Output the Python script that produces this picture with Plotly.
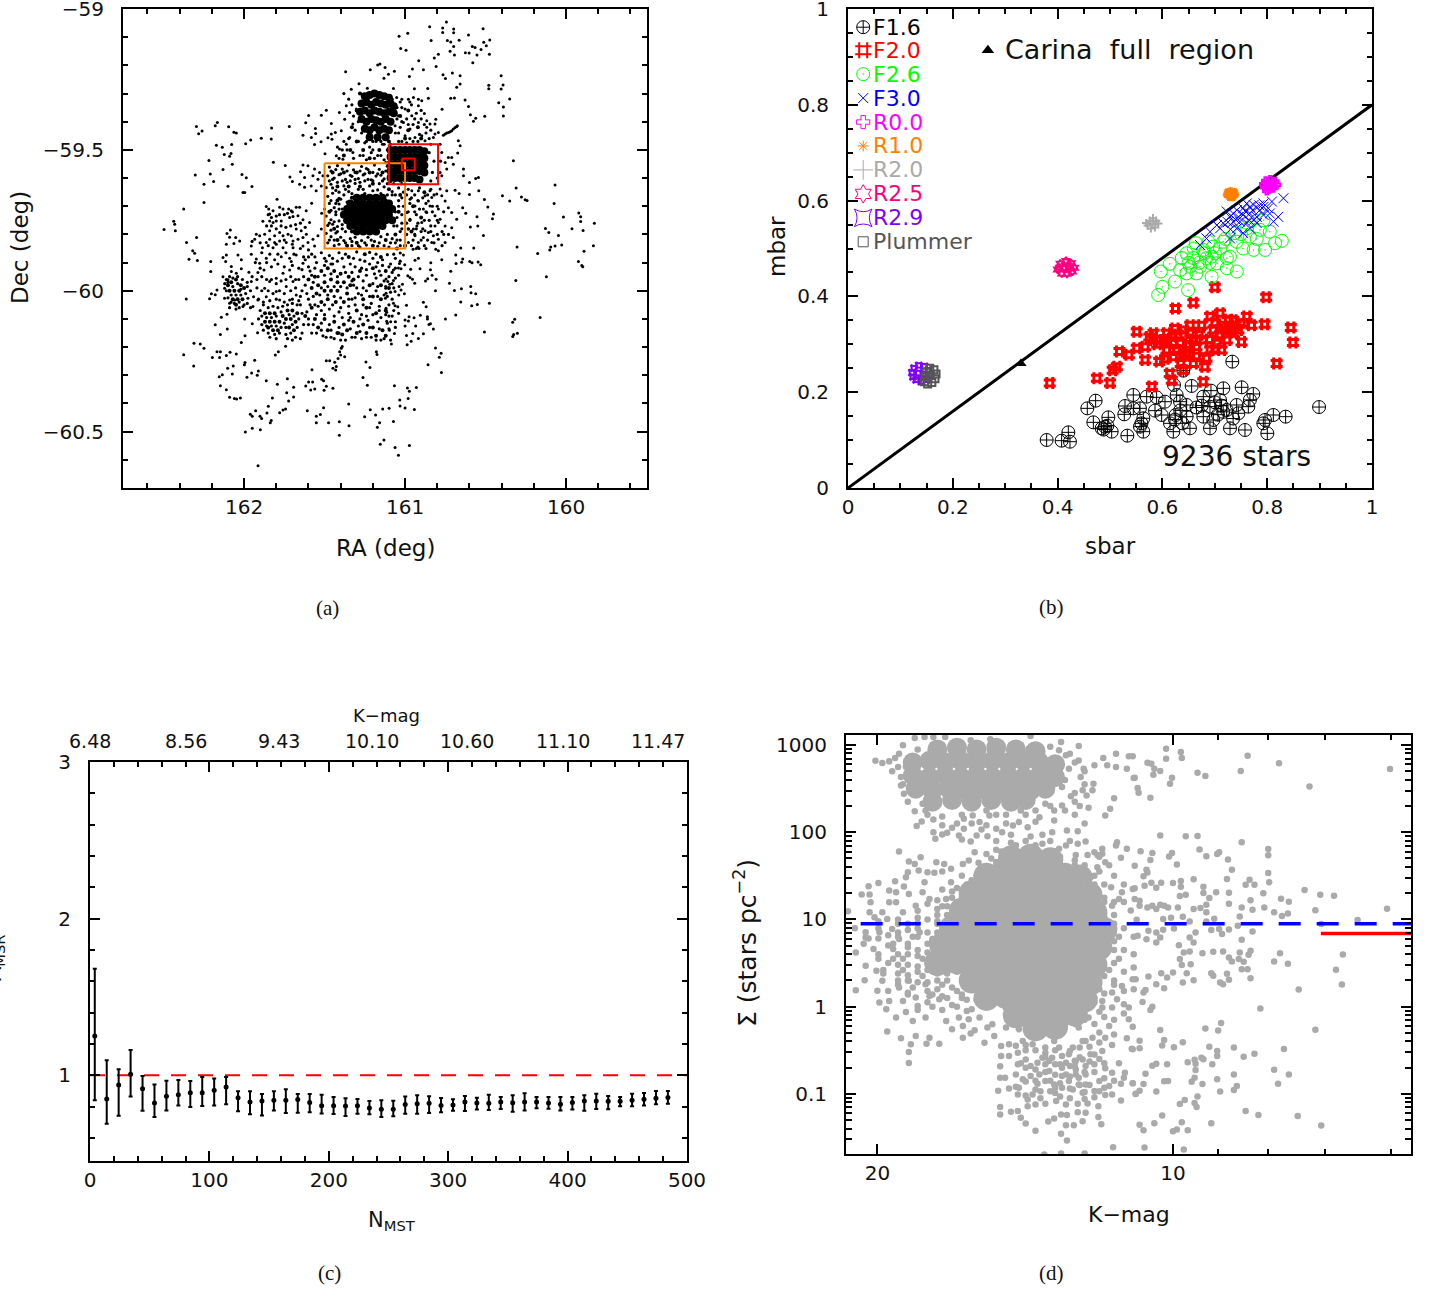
import plotly.graph_objects as go

W, H = 1432, 1293
FONT = "DejaVu Sans"

# ---------- panel (a): RA, Dec of stars ----------
stars_sparse = [
(162.296,-59.417),(162.282,-59.443),(162.261,-59.433),(162.179,-59.414),(162.166,-59.403),(162.096,-59.418),(162.063,-59.437),(162.048,-59.44),
(162.172,-59.484),(162.135,-59.491),(162.077,-59.481),(161.99,-59.478),(161.959,-59.465),(161.893,-59.459),(161.831,-59.461),(161.829,-59.422),
(161.719,-59.417),(161.634,-59.448),(161.617,-59.404),(161.599,-59.378),(161.557,-59.424),(161.582,-59.456),(161.555,-59.442),(161.562,-59.481),
(161.522,-59.471),(161.52,-59.377),(161.489,-59.359),(161.458,-59.406),(161.479,-59.457),(161.458,-59.444),(161.433,-59.438),(161.454,-59.462),
(161.408,-59.367),(161.369,-59.223),(161.216,-59.216),(161.286,-59.265),(161.334,-59.285),(161.234,-59.281),(161.17,-59.199),(161.156,-59.195),(161.131,-59.246),
(162.218,-59.538),(162.303,-59.589),(162.21,-59.586),(162.249,-59.622),(162.189,-59.612),(162.131,-59.57),(162.073,-59.551),(162.123,-59.516),(162.09,-59.523),(162.081,-59.513),
(162.013,-59.587),(161.986,-59.599),(162.1,-59.629),(161.951,-59.63),(162.007,-59.651),(161.996,-59.651),(162.249,-59.687),(162.375,-59.71),(162.437,-59.753),(162.431,-59.764),
(162.497,-59.783),(162.427,-59.787),(162.357,-59.829),(162.295,-59.811),(161.818,-59.544),(161.744,-59.555),(161.715,-59.596),(161.7,-59.612),(161.795,-59.675),(161.497,-59.514),
(161.58,-59.689),(162.085,-59.784),(162.106,-59.797),(162.09,-59.81),(162.052,-59.811),(162.027,-59.823),(162.11,-59.835),(162.063,-59.832),
(161.037,-59.097),(160.983,-59.086),(160.847,-59.063),(160.743,-59.046),(160.766,-59.067),(160.766,-59.083),(160.698,-59.071),(160.698,-59.084),(160.606,-59.092),(160.515,-59.07),
(160.838,-59.112),(160.737,-59.112),(160.716,-59.117),(160.664,-59.111),(160.474,-59.11),(160.511,-59.118),(160.495,-59.13),(160.582,-59.133),(160.565,-59.137),(160.528,-59.144),
(160.698,-59.133),(160.72,-59.15),(161.027,-59.14),(160.994,-59.146),(160.625,-59.155),(160.602,-59.156),(160.553,-59.163),(160.476,-59.161),(160.693,-59.163),(160.793,-59.161),
(160.818,-59.174),(160.915,-59.184),(160.579,-59.191),(160.807,-59.204),(160.954,-59.213),(160.886,-59.216),(161.066,-59.221),(161.124,-59.208),(161.103,-59.232),(160.973,-59.24),
(160.764,-59.233),(160.706,-59.227),(160.658,-59.237),(160.749,-59.247),(160.403,-59.237),(160.658,-59.266),(160.679,-59.278),(160.48,-59.271),(160.48,-59.283),(160.391,-59.27),
(160.403,-59.284),(161.072,-59.282),(160.942,-59.283),(160.859,-59.282),(160.716,-59.317),(160.693,-59.316),(160.627,-59.323),(160.35,-59.319),(160.418,-59.333),(160.606,-59.346),
(160.389,-59.348),(160.77,-59.356),(160.594,-59.375),(160.505,-59.381),(160.389,-59.38),(160.561,-59.388),(160.575,-59.398),(160.327,-59.539),(160.637,-59.568),(160.637,-59.592),
(160.068,-59.625),(160.31,-59.635),(160.544,-59.598),(160.561,-59.602),(160.6,-59.616),(160.395,-59.663),(160.35,-59.681),(160.277,-59.667),(160.254,-59.677),(160.242,-59.68),
(160.074,-59.69),(159.921,-59.724),(159.909,-59.737),(159.909,-59.754),(160.016,-59.738),(159.824,-59.76),(159.963,-59.78),(160.128,-59.779),(160.107,-59.793),(159.894,-59.786),
(160.047,-59.804),(159.83,-59.84),(160.027,-59.838),(160.095,-59.845),(160.068,-59.841),(160.304,-59.845),(160.573,-59.848),(160.654,-59.848),(160.507,-59.676),(160.486,-59.703),
(160.451,-59.728),(160.457,-59.744),(160.553,-59.737),(160.548,-59.77),(160.594,-59.774),(160.513,-59.804),(160.542,-59.645),(160.6,-59.658),(160.664,-59.655),(160.689,-59.643),
(160.642,-59.705),(160.623,-59.725),(160.71,-59.722),(160.679,-59.746),
(159.888,-59.86),(159.923,-59.896),(159.902,-59.91),(159.896,-59.915),(160.176,-59.868),(160.101,-59.855),(160.122,-59.95),(160.312,-59.964),(160.161,-60.095),(160.319,-60.101),
(160.331,-60.112),(160.302,-60.151),(160.325,-60.155),(160.331,-60.162),(160.507,-60.146),(160.476,-60.044),(160.551,-60.049),(160.586,-60.053),(160.654,-60.04),(160.685,-60.086),
(160.749,-60.1),(160.824,-60.136),(160.842,-60.117),(160.851,-60.12),(160.861,-60.092),(160.861,-60.1),(160.905,-60.087),(160.869,-60.057),(160.886,-60.041),(160.934,-60.125),
(160.944,-60.096),(160.975,-60.092),(161.0,-60.104),(161.0,-60.125),(160.979,-60.107),(160.991,-60.051),(160.886,-60.153),(160.952,-60.152),(160.991,-60.159),(160.917,-60.169),
(160.962,-60.179),(160.987,-60.192),(161.085,-60.189),(161.066,-60.152),(161.097,-60.14),(161.12,-60.159),(161.114,-60.108),(161.089,-60.11),(160.811,-60.203),(160.776,-60.222),
(160.787,-60.236),(160.857,-60.263),(160.774,-60.29),(161.066,-60.337),(160.985,-60.345),(160.93,-60.343),(160.973,-60.357),(160.981,-60.382),(161.033,-60.388),(161.031,-60.409),
(161.0,-60.416),(160.942,-60.421),(161.099,-60.417),(161.072,-60.464),(161.062,-60.556),(160.973,-60.549),(161.041,-60.584),(160.811,-60.0),(160.693,-59.999),(160.65,-59.993),
(160.592,-59.985),(160.59,-60.007),(160.561,-60.011),(160.724,-59.973),(160.716,-59.931),(160.807,-59.959),(160.832,-59.945),(160.859,-59.957),(160.873,-59.965),(160.772,-59.89),
(160.84,-59.901),(160.842,-59.925),(160.907,-59.922),(160.938,-59.892),(160.917,-59.885),(160.965,-59.924),(161.002,-59.908),(161.035,-59.903),(161.041,-59.919),(161.025,-59.922),
(161.072,-59.926),(161.01,-59.873),(160.95,-59.853),(160.913,-59.85),(160.809,-59.853),(160.793,-59.858),(160.685,-59.873),(160.683,-59.903),(160.648,-59.899),(160.642,-59.887),
(160.598,-59.896),(160.584,-59.901),(160.546,-59.898),(160.53,-59.908),(160.983,-59.947),(160.969,-59.953),(160.954,-59.959),(160.94,-59.973),(161.016,-59.977),(161.037,-59.985),
(161.025,-59.997),(161.062,-60.003),(161.039,-60.015),(161.004,-60.011),(161.072,-59.964),(161.118,-59.958),(161.107,-59.967),(161.095,-59.977),(161.072,-60.044),(161.062,-60.053),
(161.045,-60.057),(161.114,-60.076),(161.118,-60.062),(161.122,-60.027),(161.118,-60.009),(161.12,-59.991),
(162.319,-59.858),(162.307,-59.867),(162.342,-59.888),(162.29,-59.893),(162.207,-59.896),(162.207,-59.932),(162.359,-60.029),(162.214,-60.028),(162.203,-60.011),(162.179,-60.014),
(162.168,-59.997),(162.179,-60.121),(162.141,-60.094),(162.106,-60.083),(162.104,-60.136),(162.147,-60.155),(162.311,-60.186),(162.272,-60.189),(162.249,-60.204),(162.375,-60.227),
(162.168,-60.216),(162.147,-60.216),(162.197,-60.237),(162.152,-60.237),(162.11,-60.23),(162.087,-60.218),(162.048,-60.224),(162.313,-60.267),(162.102,-60.275),(162.067,-60.267),
(161.994,-60.255),(161.998,-60.263),(161.934,-60.247),(162.135,-60.298),(162.154,-60.305),(162.073,-60.295),(161.982,-60.307),(161.953,-60.292),(161.911,-60.285),(161.918,-60.3),
(161.862,-60.319),(162.147,-60.337),(162.11,-60.351),(162.09,-60.378),(162.06,-60.382),(162.046,-60.384),(162.023,-60.381),(161.824,-60.381),(161.793,-60.332),(161.731,-60.312),
(161.692,-60.342),(161.735,-60.362),(161.692,-60.377),(161.723,-60.391),(161.849,-60.41),(161.858,-60.434),(161.928,-60.426),(161.961,-60.438),(161.949,-60.445),(161.901,-60.445),
(161.891,-60.453),(161.831,-60.46),(161.837,-60.468),(161.779,-60.433),(161.758,-60.423),(161.742,-60.42),(161.992,-60.501),(161.949,-60.488),(161.899,-60.493),(161.913,-60.621),
(161.607,-60.426),(161.551,-60.445),(161.526,-60.439),(161.506,-60.415),(161.551,-60.468),(161.475,-60.468),(161.408,-60.465),(161.348,-60.479),(161.408,-60.513),(161.35,-60.402),
(161.251,-60.447),(161.216,-60.422),(161.183,-60.441),(161.158,-60.468),(161.172,-60.484),(161.154,-60.545),(161.131,-60.53),(161.139,-60.42),(161.617,-60.338),(161.599,-60.324),
(161.574,-60.324),(161.586,-60.352),(161.561,-60.349),(161.578,-60.28),(161.518,-60.314),(161.506,-60.319),(161.503,-60.353),(161.489,-60.339),(161.448,-60.346),(161.261,-60.308),
(161.234,-60.335),(161.243,-60.253),(161.218,-60.272),(161.489,-60.248),(161.468,-60.248),(161.437,-60.254),(161.448,-60.275),(161.431,-60.281),(161.427,-60.269),(161.416,-60.24),
(161.4,-60.228),(161.406,-60.216),(161.396,-60.204),(161.375,-60.234),(161.39,-60.198),(161.806,-60.228),(161.787,-60.216),(161.742,-60.197),(162.017,-60.184),(161.994,-60.16),
(161.916,-60.149),(161.996,-60.1),(161.949,-60.117),(161.178,-60.216),(161.174,-60.226),
(160.762,-59.448),(160.741,-59.44),(160.72,-59.436),(160.70,-59.426),(160.679,-59.417),(160.751,-59.444),(160.73,-59.438),(160.71,-59.432),(160.689,-59.421),(160.675,-59.414),
(160.669,-59.468),(160.658,-59.485),(160.673,-59.511),(160.7,-59.551),(160.751,-59.545),(160.741,-59.568),(160.782,-59.58),(160.772,-59.592),(160.71,-59.527),(160.731,-59.527),
(160.782,-59.48),(160.772,-59.509),(160.793,-59.438),(160.814,-59.444),(160.824,-59.456),(160.814,-59.408),(160.809,-59.391),(160.865,-59.397),(160.845,-59.408),(160.88,-59.371),
(160.917,-59.343),(160.917,-59.32),(160.948,-59.314),(160.855,-59.317),(160.896,-59.326),(160.979,-59.32),(161.02,-59.32),(161.052,-59.314),(161.083,-59.332),(161.0,-59.355),
(160.958,-59.379),(160.917,-59.403),(160.865,-59.42),(160.896,-59.45),(160.876,-59.468),(160.938,-59.456),(161.0,-59.45),(161.062,-59.414),(161.041,-59.379),(161.01,-59.403),
(160.969,-59.426),(161.093,-59.355),
(160.969,-59.675),(160.938,-59.699),(160.917,-59.681),(160.876,-59.663),(160.855,-59.681),(160.834,-59.669),(160.803,-59.657),(160.772,-59.663),(160.741,-59.645),(160.886,-59.71),
(160.865,-59.722),(160.845,-59.699),(160.814,-59.734),(160.782,-59.746),(160.751,-59.77),(160.71,-59.776),(160.7,-59.811),(160.793,-59.758),(160.814,-59.77),(160.855,-59.793),
(160.886,-59.811),(160.917,-59.829),(160.948,-59.781),(160.969,-59.746),(160.927,-59.77),(160.896,-59.758),(160.834,-59.829),(160.751,-59.829),(160.793,-59.817),(160.979,-59.829),
(160.751,-59.681),(160.731,-59.705),(160.793,-59.71),(160.917,-59.645),(160.845,-59.645),(160.958,-59.645),(160.782,-59.639),(160.989,-59.722),(160.979,-59.781),(160.938,-59.805),
(160.876,-59.787),(160.824,-59.805),
(161.862,-59.701),(161.847,-59.71),(161.82,-59.716),(161.841,-59.728),(161.779,-59.704),(161.758,-59.71),(161.723,-59.71),(161.707,-59.716),(161.676,-59.704),(161.655,-59.704),
(161.614,-59.716),(161.883,-59.753),(161.841,-59.752),(161.82,-59.758),(161.8,-59.752),(161.769,-59.752),(161.717,-59.74),(161.696,-59.736),(161.665,-59.734),(161.634,-59.748),
(161.593,-59.758),(161.924,-59.799),(161.903,-59.805),(161.872,-59.799),(161.841,-59.787),(161.81,-59.805),(161.779,-59.793),(161.758,-59.805),(161.727,-59.799),(161.707,-59.805),
(161.676,-59.781),(161.645,-59.787),(161.613,-59.799),(161.634,-59.811),(161.665,-59.817),(161.696,-59.823),(161.738,-59.829),(161.779,-59.823),(161.81,-59.829),(161.841,-59.817),
(161.862,-59.829),(161.934,-59.817),(161.955,-59.841),(161.886,-59.847),(161.82,-59.847),(161.758,-59.847),(161.696,-59.847),(161.634,-59.841),(161.603,-59.829),(161.572,-59.817),
(161.541,-59.805),(161.562,-59.841),(161.518,-59.725),(161.5,-59.71),(161.52,-59.781),
(161.634,-59.554),(161.603,-59.556),(161.562,-59.568),(161.531,-59.58),(161.649,-59.578),(161.624,-59.598),(161.572,-59.592),(161.541,-59.604),(161.655,-59.622),(161.624,-59.633),
(161.583,-59.628),(161.552,-59.645),(161.51,-59.592),(161.52,-59.628),(161.365,-59.343),(161.344,-59.367),(161.375,-59.391),(161.396,-59.432),(161.344,-59.456),(161.365,-59.48),
(161.407,-59.497),(161.427,-59.521),(161.386,-59.533),(161.324,-59.509),(161.303,-59.355),(161.324,-59.408),
(162.131,-59.882),(162.11,-59.873),(162.114,-59.896),(162.079,-59.914),(162.038,-59.873),(162.017,-59.89),(161.955,-59.87),(161.924,-59.887),(161.903,-59.902),(162.131,-59.95),
(162.1,-59.961),(162.079,-59.932),(162.048,-59.938),(162.017,-59.922),(161.97,-59.934),(161.914,-59.935),(161.876,-59.926),(161.955,-59.967),(162.121,-59.991),(162.121,-60.027),
(162.09,-60.044),(162.059,-60.033),(162.007,-60.056),(161.976,-60.027),(161.941,-60.021),(161.914,-60.033),(161.945,-60.056),(161.862,-60.021),(161.841,-59.967),(161.8,-59.956),
(161.758,-59.938),(161.717,-59.926),(161.872,-59.991),(161.8,-60.003),(161.738,-59.985),(161.696,-59.967),(161.676,-60.015),(161.779,-60.033),(161.717,-60.033),(161.862,-59.885),
(161.81,-59.89),(161.769,-59.879),(161.717,-59.885),(161.676,-59.873),(161.634,-59.902),(161.707,-59.896),
]
stars_field = [
(161.47,-59.561),(161.42,-59.556),(161.39,-59.568),(161.35,-59.553),(161.32,-59.571),(161.27,-59.559),(161.24,-59.566),(161.19,-59.554),(161.16,-59.569),(161.11,-59.558),(161.08,-59.573),(161.04,-59.561),
(161.48,-59.592),(161.44,-59.6),(161.41,-59.588),(161.37,-59.605),(161.33,-59.594),(161.29,-59.602),(161.26,-59.589),(161.21,-59.606),(161.18,-59.593),(161.13,-59.603),(161.09,-59.612),(161.05,-59.597),(161.02,-59.62),
(161.49,-59.634),(161.46,-59.622),(161.43,-59.644),(161.38,-59.628),(161.35,-59.648),(161.31,-59.619),(161.26,-59.64),(161.22,-59.628),(161.17,-59.642),(161.13,-59.631),(161.08,-59.648),(161.04,-59.635),(161.01,-59.65),
(161.48,-59.665),(161.45,-59.654),(161.41,-59.672),(161.38,-59.66),(161.36,-59.685),(161.47,-59.69),(161.44,-59.705),(161.41,-59.692),(161.39,-59.71),(161.49,-59.735),(161.46,-59.748),(161.43,-59.73),(161.41,-59.752),
(161.48,-59.768),(161.45,-59.764),(161.42,-59.772),(161.39,-59.765),(161.37,-59.79),(161.49,-59.796),(161.46,-59.808),(161.43,-59.795),(161.4,-59.81),(161.38,-59.822),(161.48,-59.83),(161.44,-59.84),(161.34,-59.815),
(161.31,-59.81),(161.27,-59.822),(161.23,-59.81),(161.19,-59.825),(161.15,-59.808),(161.11,-59.8),(161.08,-59.815),(161.03,-59.79),(161.02,-59.76),(161.05,-59.74),(161.07,-59.77),(161.01,-59.7),(161.04,-59.68),(161.08,-59.66),
(161.33,-59.84),(161.28,-59.845),(161.24,-59.838),(161.17,-59.842),(161.1,-59.845),(161.06,-59.83),(161.03,-59.82),
(160.98,-59.64),(160.94,-59.66),(160.91,-59.635),(160.87,-59.69),(160.83,-59.72),(160.97,-59.69),(160.93,-59.73),(160.85,-59.75),(160.99,-59.76),(160.94,-59.8),(160.9,-59.79),(160.86,-59.82),(160.99,-59.8),(160.96,-59.84),
(160.92,-59.845),(160.88,-59.84),(160.8,-59.7),(160.76,-59.72),(160.77,-59.79),(160.84,-59.64),
(161.38,-59.3),(161.35,-59.32),(161.33,-59.34),(161.32,-59.38),(161.29,-59.4),(161.31,-59.43),(161.27,-59.44),(161.29,-59.47),(161.25,-59.475),(161.22,-59.49),(161.26,-59.52),(161.21,-59.51),(161.18,-59.47),(161.19,-59.53),
(161.13,-59.48),(161.15,-59.52),(161.12,-59.545),(161.06,-59.44),(161.03,-59.42),(161.05,-59.35),(161.07,-59.37),(161.02,-59.35),(160.99,-59.39),(160.96,-59.34),(160.93,-59.37),(160.95,-59.41),(160.9,-59.39),(160.88,-59.41),
(160.97,-59.46),(160.92,-59.47),(160.84,-59.43),(160.84,-59.48),(160.85,-59.51),(160.82,-59.54),(160.83,-59.58),(160.8,-59.6),(160.84,-59.61),(160.78,-59.54),(161.04,-59.47),(161.35,-59.46),(161.38,-59.47),(161.41,-59.53),
(161.58,-59.87),(161.52,-59.865),(161.47,-59.875),(161.41,-59.865),(161.37,-59.87),(161.3,-59.862),(161.22,-59.864),(161.18,-59.87),(161.11,-59.872),(161.07,-59.87),(161.03,-59.866),(161.62,-59.89),(161.55,-59.9),(161.49,-59.895),
(161.42,-59.895),(161.34,-59.905),(161.25,-59.895),(161.17,-59.9),(161.09,-59.905),(161.03,-59.895),(161.64,-59.925),(161.59,-59.93),(161.45,-59.905),(161.33,-59.935),(161.24,-59.925),(161.16,-59.93),(161.08,-59.935),(161.04,-59.945),
(161.66,-59.96),(161.3,-59.99),(161.26,-59.965),(161.18,-59.955),(161.13,-59.965),(161.07,-59.99),(161.64,-60.0),(161.6,-60.03),(161.56,-60.05),(161.33,-60.03),(161.29,-60.01),(161.24,-60.0),(161.18,-60.0),(161.11,-60.02),
(161.08,-60.03),(161.65,-60.05),(161.61,-60.075),(161.52,-60.07),(161.47,-60.065),(161.41,-60.075),(161.35,-60.08),(161.27,-60.085),(161.21,-60.045),(161.16,-60.055),(161.1,-60.05),(161.08,-60.09),(161.06,-60.11),(161.04,-60.08),
(161.6,-60.12),(161.52,-60.115),(161.47,-60.12),(161.41,-60.13),(161.35,-60.105),(161.29,-60.125),(161.23,-60.105),(161.17,-60.11),(161.11,-60.115),(161.58,-60.15),(161.51,-60.16),(161.46,-60.165),(161.33,-60.165),(161.27,-60.17),
(161.21,-60.165),(161.15,-60.175),(161.09,-60.175),(161.44,-60.17),(161.4,-60.175),(161.37,-60.175),
(161.9,-60.07),(161.88,-60.05),(161.85,-60.06),(161.82,-60.055),(161.79,-60.06),(161.76,-60.055),(161.73,-60.05),(161.7,-60.045),(161.67,-60.05),(161.64,-60.08),(161.91,-60.1),(161.89,-60.09),(161.86,-60.095),(161.83,-60.095),
(161.8,-60.09),(161.77,-60.075),(161.75,-60.115),(161.72,-60.085),(161.69,-60.09),(161.66,-60.1),(161.63,-60.12),(161.89,-60.12),(161.86,-60.125),(161.83,-60.125),(161.8,-60.125),(161.77,-60.13),(161.74,-60.13),(161.7,-60.12),
(161.67,-60.13),(161.64,-60.15),(161.88,-60.14),(161.85,-60.15),(161.81,-60.155),(161.78,-60.15),(161.74,-60.155),(161.71,-60.15),(161.68,-60.165),(161.65,-60.17),(161.84,-60.165),(161.8,-60.17),(161.73,-60.17),(161.7,-60.175),
(162.11,-59.96),(162.09,-59.95),(162.07,-59.955),(162.04,-59.95),(162.01,-59.96),(161.98,-59.97),(162.12,-59.975),(162.1,-59.97),(162.07,-59.985),(162.04,-59.975),(162.02,-59.995),(161.98,-59.985),(162.11,-60.0),(162.08,-60.015),
(162.05,-60.015),(162.02,-60.015),(161.99,-60.01),(161.96,-60.0),(162.1,-60.025),(162.08,-60.04),(162.06,-60.045),(162.03,-60.04),(162.0,-60.05),(161.98,-60.045),(162.09,-60.06),(162.05,-60.065),(162.03,-60.06),(161.96,-60.06),
(161.46,-59.575),(161.43,-59.57),(161.4,-59.585),(161.36,-59.575),(161.34,-59.59),(161.31,-59.58),(161.28,-59.575),(161.25,-59.585),(161.23,-59.57),(161.2,-59.58),(161.17,-59.585),(161.15,-59.59),(161.12,-59.575),(161.1,-59.59),(161.07,-59.585),(161.03,-59.58),
(161.47,-59.61),(161.45,-59.605),(161.42,-59.615),(161.39,-59.61),(161.36,-59.615),(161.34,-59.61),(161.31,-59.605),(161.28,-59.615),(161.25,-59.61),(161.23,-59.605),(161.2,-59.61),(161.16,-59.62),(161.14,-59.61),(161.11,-59.62),(161.07,-59.62),(161.03,-59.61),
(161.45,-59.635),(161.41,-59.65),(161.37,-59.64),(161.33,-59.655),(161.29,-59.64),(161.25,-59.655),(161.2,-59.645),(161.15,-59.655),(161.11,-59.66),(161.06,-59.66),(161.02,-59.67),
(161.46,-59.68),(161.43,-59.69),(161.4,-59.675),(161.46,-59.715),(161.43,-59.72),(161.41,-59.71),(161.47,-59.76),(161.44,-59.755),(161.42,-59.79),(161.39,-59.78),(161.46,-59.785),(161.47,-59.82),(161.44,-59.82),(161.41,-59.835),(161.37,-59.83),(161.33,-59.825),(161.29,-59.84),(161.25,-59.83),(161.21,-59.82),(161.16,-59.83),(161.13,-59.84),(161.09,-59.83),(161.05,-59.82),(161.03,-59.84),(161.04,-59.7),(161.06,-59.72),(161.02,-59.73),(161.05,-59.77),(161.02,-59.78),
(161.6,-59.88),(161.56,-59.88),(161.5,-59.885),(161.45,-59.885),(161.39,-59.885),(161.32,-59.885),(161.28,-59.89),(161.2,-59.885),(161.14,-59.89),(161.06,-59.885),(161.6,-59.915),(161.56,-59.92),(161.5,-59.91),(161.46,-59.905),(161.38,-59.915),(161.31,-59.915),(161.27,-59.92),(161.22,-59.905),(161.18,-59.915),(161.14,-59.91),(161.1,-59.915),(161.06,-59.92),(161.63,-59.95),(161.58,-59.945),(161.54,-59.95),(161.5,-59.945),(161.46,-59.94),(161.42,-59.95),(161.37,-59.935),(161.33,-59.965),(161.29,-59.95),(161.24,-59.945),(161.19,-59.94),(161.15,-59.945),(161.1,-59.95),(161.06,-59.955),
(161.62,-59.98),(161.57,-59.97),(161.52,-59.99),(161.48,-59.985),(161.44,-59.985),(161.4,-59.985),(161.36,-59.99),(161.32,-59.98),(161.26,-59.99),(161.2,-59.975),(161.17,-59.985),(161.12,-59.985),(161.08,-59.975),
(161.61,-60.01),(161.57,-60.02),(161.53,-60.015),(161.48,-60.015),(161.44,-60.02),(161.4,-60.025),(161.35,-60.03),(161.31,-60.025),(161.27,-60.015),(161.22,-60.02),(161.17,-60.02),(161.13,-60.015),(161.09,-60.005),
(161.59,-60.05),(161.54,-60.055),(161.5,-60.05),(161.45,-60.05),(161.4,-60.06),(161.35,-60.055),(161.31,-60.05),(161.26,-60.05),(161.22,-60.06),(161.16,-60.07),(161.12,-60.085),(161.07,-60.07),
(161.6,-60.1),(161.55,-60.085),(161.5,-60.085),(161.44,-60.09),(161.39,-60.095),(161.34,-60.095),(161.28,-60.1),(161.24,-60.09),(161.2,-60.085),(161.15,-60.095),(161.1,-60.09),
(161.57,-60.12),(161.52,-60.14),(161.46,-60.14),(161.41,-60.15),(161.34,-60.135),(161.28,-60.145),(161.22,-60.13),(161.16,-60.135),(161.1,-60.135),(161.06,-60.13),(161.55,-60.15),(161.49,-60.165),(161.31,-60.165),(161.24,-60.165),(161.18,-60.175),(161.13,-60.17),
(161.95,-59.95),(161.92,-59.96),(161.89,-59.95),(161.86,-59.96),(161.83,-59.96),(161.8,-59.975),(161.77,-59.965),(161.74,-59.96),(161.71,-59.95),(161.68,-59.96),(161.92,-59.99),(161.89,-60.0),(161.85,-60.0),(161.82,-60.01),(161.78,-60.0),(161.75,-60.01),(161.71,-60.0),(161.68,-59.99),(161.65,-60.02),(161.91,-60.03),(161.88,-60.04),(161.84,-60.035),(161.8,-60.03),(161.75,-60.04),(161.7,-60.03),(161.66,-60.035),
(161.93,-59.9),(161.9,-59.92),(161.86,-59.9),(161.83,-59.915),(161.79,-59.905),(161.75,-59.915),(161.7,-59.91),(161.66,-59.92),(161.63,-59.88),(161.69,-59.87),(161.74,-59.865),(161.79,-59.87),(161.84,-59.87),(161.89,-59.865),(161.6,-59.855),(161.65,-59.85),(161.7,-59.835),(161.75,-59.82),(161.8,-59.835),(161.85,-59.84),(161.9,-59.83),(161.95,-59.825),
(161.85,-59.73),(161.83,-59.74),(161.8,-59.735),(161.78,-59.73),(161.75,-59.73),(161.73,-59.725),(161.7,-59.72),(161.86,-59.77),(161.83,-59.77),(161.8,-59.78),(161.77,-59.77),(161.74,-59.775),(161.71,-59.77),(161.68,-59.765),(161.65,-59.76),(161.62,-59.775),
(161.42,-59.49),(161.39,-59.5),(161.36,-59.5),(161.32,-59.53),(161.28,-59.52),(161.24,-59.535),(161.2,-59.5),(161.17,-59.52),(161.14,-59.48),(161.11,-59.5),(161.13,-59.535),(161.09,-59.48),(161.24,-59.47),(161.2,-59.47),(161.15,-59.47),(161.04,-59.44),(161.02,-59.47),(160.99,-59.475),(160.95,-59.47),(160.91,-59.445),(160.87,-59.44),(160.85,-59.46),(160.9,-59.36),(160.94,-59.39),(160.98,-59.41),(161.02,-59.4),(161.05,-59.39),(160.97,-59.33),(161.03,-59.33),(161.08,-59.32),
(160.99,-59.66),(160.96,-59.67),(160.92,-59.68),(160.89,-59.67),(160.86,-59.66),(160.82,-59.66),(160.98,-59.72),(160.94,-59.72),(160.91,-59.71),(160.87,-59.72),(160.83,-59.7),(160.97,-59.75),(160.92,-59.76),(160.88,-59.75),(160.84,-59.77),(160.8,-59.75),(160.98,-59.78),(160.93,-59.78),(160.89,-59.78),(160.84,-59.79),(160.8,-59.8),(160.76,-59.8),(160.95,-59.82),(160.9,-59.82),(160.82,-59.83),(160.93,-59.85),(160.87,-59.85),(160.77,-59.84),(160.73,-59.8),
]
stars_clumped = [
(162.08,-59.97),(162.05,-59.96),(162.02,-59.98),(162.09,-60.0),(162.06,-60.0),(162.03,-60.0),(162.0,-59.99),(162.07,-60.03),(162.04,-60.03),(162.01,-60.03),(162.05,-60.05),(162.1,-59.98),
(161.87,-60.08),(161.84,-60.08),(161.81,-60.08),(161.87,-60.11),(161.84,-60.11),(161.81,-60.11),(161.78,-60.11),(161.85,-60.13),(161.82,-60.14),(161.79,-60.14),(161.73,-60.07),(161.7,-60.07),
(161.67,-60.08),(161.74,-60.1),(161.71,-60.1),(161.68,-60.11),(161.72,-60.13),(161.69,-60.14),(161.76,-60.09),
(161.6,-59.96),(161.56,-59.95),(161.52,-59.93),(161.48,-59.92),(161.44,-59.93),(161.4,-59.94),(161.35,-59.95),(161.32,-59.96),(161.58,-59.99),(161.54,-59.98),(161.5,-59.97),(161.46,-59.96),
(161.42,-59.97),(161.38,-59.97),(161.34,-59.98),(161.55,-60.01),(161.5,-60.0),(161.46,-60.0),(161.42,-60.0),(161.36,-60.01),(161.52,-60.04),(161.48,-60.03),(161.43,-60.04),(161.38,-60.04),
(161.62,-60.09),(161.56,-60.1),(161.5,-60.1),(161.44,-60.11),(161.38,-60.12),(161.32,-60.11),(161.26,-60.12),(161.2,-60.13),(161.14,-60.14),(161.42,-60.15),(161.39,-60.155),(161.36,-60.14),
(161.3,-60.15),(161.24,-60.15),(161.18,-60.16),(161.12,-60.16),(161.54,-60.13),(161.48,-60.14),(161.58,-60.06),(161.3,-60.07),(161.24,-60.06),(161.18,-60.08),(161.12,-60.07),(161.26,-60.03),
(161.2,-60.02),(161.15,-60.03),(161.22,-59.98),(161.15,-59.98),(161.1,-59.99),(161.28,-59.93),(161.2,-59.92),(161.12,-59.93),
(161.45,-59.58),(161.38,-59.58),(161.3,-59.58),(161.22,-59.58),(161.14,-59.58),(161.07,-59.6),(161.42,-59.63),(161.35,-59.63),(161.42,-59.68),(161.47,-59.72),(161.44,-59.78),(161.42,-59.82),
(161.36,-59.84),(161.3,-59.83),(161.2,-59.84),(161.12,-59.82),(161.06,-59.8),(161.04,-59.72),(161.03,-59.66),(161.1,-59.64),(161.2,-59.62),(161.28,-59.63),
(161.38,-59.52),(161.34,-59.5),(161.3,-59.47),(161.26,-59.5),(161.22,-59.53),(161.16,-59.5),(161.1,-59.47),(161.1,-59.52),(161.33,-59.42),(161.3,-59.36),(161.28,-59.3),(161.1,-59.33),
(161.08,-59.4),(161.03,-59.38),(160.98,-59.36),(160.98,-59.43),(160.92,-59.42),(161.0,-59.46),(160.9,-59.46),(160.95,-59.7),(160.9,-59.74),(160.96,-59.79),(160.88,-59.65),
(161.25,-59.67),(161.33,-59.67),(161.12,-59.68),(161.33,-59.79),(161.25,-59.79),(161.14,-59.77),(161.38,-59.73),(161.0,-59.84),(161.05,-59.85),(161.15,-59.88),(161.25,-59.87),(161.35,-59.88),
]
stars_core = [
(161.25,-59.31),(161.22,-59.305),(161.19,-59.30),(161.16,-59.305),(161.13,-59.31),(161.10,-59.315),(161.27,-59.335),(161.24,-59.33),(161.21,-59.34),(161.18,-59.33),(161.15,-59.335),(161.12,-59.34),(161.09,-59.335),(161.07,-59.345),
(161.28,-59.365),(161.25,-59.36),(161.22,-59.37),(161.19,-59.36),(161.16,-59.365),(161.13,-59.37),(161.10,-59.365),(161.07,-59.37),(161.27,-59.39),(161.24,-59.40),(161.21,-59.39),(161.18,-59.395),(161.15,-59.40),(161.12,-59.39),(161.09,-59.40),
(161.25,-59.425),(161.22,-59.43),(161.19,-59.42),(161.16,-59.43),(161.13,-59.425),(161.10,-59.43),(161.22,-59.455),(161.17,-59.455),(161.12,-59.455),
(161.09,-59.50),(161.06,-59.50),(161.03,-59.50),(161.0,-59.50),(160.97,-59.50),(160.94,-59.50),(160.91,-59.50),(160.88,-59.505),(161.09,-59.525),(161.06,-59.525),(161.03,-59.525),(161.0,-59.525),(160.97,-59.525),(160.94,-59.525),(160.91,-59.525),(160.88,-59.53),
(161.09,-59.55),(161.06,-59.55),(161.03,-59.55),(161.0,-59.55),(160.97,-59.55),(160.94,-59.55),(160.91,-59.55),(160.88,-59.555),(161.09,-59.575),(161.06,-59.575),(161.03,-59.575),(161.0,-59.575),(160.97,-59.575),(160.94,-59.575),(160.91,-59.575),(160.88,-59.58),
(161.09,-59.60),(161.06,-59.60),(161.03,-59.60),(161.0,-59.60),(160.97,-59.60),(160.94,-59.60),(160.91,-59.605),
(161.30,-59.67),(161.26,-59.67),(161.22,-59.67),(161.18,-59.67),(161.14,-59.67),(161.34,-59.69),(161.30,-59.69),(161.26,-59.69),(161.22,-59.69),(161.18,-59.69),(161.14,-59.69),(161.10,-59.69),
(161.36,-59.71),(161.32,-59.71),(161.28,-59.71),(161.24,-59.71),(161.20,-59.71),(161.16,-59.71),(161.12,-59.71),(161.08,-59.71),(161.38,-59.73),(161.34,-59.73),(161.30,-59.73),(161.26,-59.73),(161.22,-59.73),(161.18,-59.73),(161.14,-59.73),(161.10,-59.73),
(161.36,-59.75),(161.32,-59.75),(161.28,-59.75),(161.24,-59.75),(161.20,-59.75),(161.16,-59.75),(161.12,-59.75),(161.08,-59.75),(161.34,-59.77),(161.30,-59.77),(161.26,-59.77),(161.22,-59.77),(161.18,-59.77),(161.14,-59.77),
(161.30,-59.79),(161.26,-59.79),(161.22,-59.79),(161.18,-59.79),
]
orange_box_ra = [161.5, 161.0, 161.0, 161.5, 161.5]
orange_box_dec = [-59.547, -59.547, -59.85, -59.85, -59.547]
red_box_ra = [161.1, 160.795, 160.795, 161.1, 161.1]
red_box_dec = [-59.48, -59.48, -59.622, -59.622, -59.48]
red_small_ra = [161.02, 160.94, 160.94, 161.02, 161.02]
red_small_dec = [-59.531, -59.531, -59.572, -59.572, -59.531]

# ---------- panel (b): sbar, mbar ----------
f16 = [(.7334,.2638),(.6399,.2450),(.6221,.2151),(.6558,.2130),(.7512,.2102),(.7163,.2081),(.6927,.2032),(.7735,.1963),(.5445,.1942),(.4726,.1823),(.4567,.1663),(.5700,.1907),(.5890,.1893),
(.6049,.1802),(.5286,.1712),(.5445,.1663),(.5572,.1663),(.6272,.1942),(.6336,.1802),(.6463,.1733),(.6781,.1907),(.7099,.1837),(.7417,.1733),(.7640,.1698),(.6908,.1698),(.7226,.1628),
(.5859,.1615),(.5273,.1538),(.4968,.1475),(.4682,.1371),(.4904,.1281),(.4841,.1246),(.5032,.1176),(.5331,.1093),(.5636,.1455),(.5572,.1281),(.5636,.1176),(.5986,.1524),(.6145,.1350),
(.6208,.1176),(.6526,.1246),(.6253,.1524),(.6463,.1489),(.6781,.1489),(.6972,.1420),(.6908,.1246),(.7290,.1246),(.7576,.1211),(.8117,.1524),(.8352,.1489),(.7958,.1420),(.7926,.1350),
(.8002,.1141),(.3791,.1002),(.4077,.0988),(.4205,.1162),(.4236,.0967),(.7000,.1790),(.7130,.1720),(.7160,.1590),(.7350,.1450),(.7450,.1560),(.7670,.1840),(.6340,.1620),(.6240,.1430),
(.6650,.1680),(.4880,.1220),(.4950,.1300),(.5600,.1350),(.6750,.1720),(.7060,.1530),(.6380,.1350),(.899,.169)]
f20 = [(.700,.419),(.798,.398),(.659,.387),(.625,.375),(.551,.326),(.583,.323),(.608,.323),(.624,.333),(.653,.340),(.691,.358),(.710,.365),(.726,.351),(.761,.358),(.770,.340),(.795,.342),
(.845,.335),(.849,.304),(.751,.305),(.729,.330),(.697,.330),(.678,.309),(.659,.309),(.634,.302),(.621,.302),(.602,.309),(.583,.309),(.567,.295),(.551,.292),(.518,.285),(.536,.278),(.513,.253),
(.505,.246),(.475,.229),(.500,.219),(.385,.219),(.567,.267),(.594,.264),(.621,.274),(.640,.278),(.659,.260),(.684,.271),(.713,.288),(.735,.323),(.818,.260),(.614,.239),(.640,.246),(.618,.225),
(.580,.212),(.678,.222),(.681,.253),(.653,.323),(.665,.295),(.704,.302),(.745,.330),(.646,.281),(.608,.288),(.627,.288),(.691,.288),(.723,.309),(.675,.34),(.70,.345),(.715,.34),(.735,.35),
(.75,.345),(.64,.33),(.66,.31),(.62,.315),(.59,.30),(.575,.315),(.69,.31),(.71,.32),(.67,.32),(.65,.30),(.63,.32),(.61,.305),(.605,.27),(.635,.26),(.665,.275),(.70,.29),(.72,.33),(.74,.34)]
f26 = [(.664,.511),(.646,.490),(.614,.468),(.597,.452),(.600,.420),(.592,.403),(.624,.431),(.649,.413),(.694,.441),(.742,.452),(.723,.459),(.678,.497),(.697,.504),(.729,.483),(.754,.500),
(.774,.497),(.796,.497),(.815,.511),(.828,.516),(.805,.535),(.786,.539),(.767,.525),(.716,.514),(.659,.480),(.637,.480),(.672,.462),(.646,.448),(.653,.462),(.684,.480),(.704,.469),(.665,.448),
(.694,.483),(.723,.480),(.742,.514),(.761,.542),(.793,.559),(.739,.532),(.688,.514),(.634,.455),(.67,.47),(.68,.49),(.66,.50),(.70,.49),(.71,.50),(.69,.47),(.65,.47),(.72,.52),(.75,.53),(.78,.52)]
f30 = [(.672,.507),(.684,.521),(.691,.535),(.704,.549),(.723,.577),(.729,.521),(.742,.542),(.754,.532),(.767,.542),(.780,.553),(.812,.556),(.831,.605),(.809,.598),(.793,.594),(.761,.594),(.742,.580),
(.754,.570),(.729,.566),(.716,.553),(.767,.573),(.786,.580),(.802,.584),(.774,.591),(.780,.566),(.735,.556),(.748,.556),(.710,.542),(.761,.553),(.793,.570),(.767,.587),(.754,.584),(.735,.573),
(.793,.587),(.805,.573),(.821,.566),(.745,.566),(.758,.578),(.772,.58),(.785,.59),(.775,.56),(.765,.56),(.74,.56),(.725,.555),(.73,.54)]
r00 = [(.795,.628),(.803,.624),(.812,.626),(.818,.633),(.815,.640),(.806,.644),(.797,.641),(.793,.634),(.804,.634),(.811,.638),(.799,.620),(.808,.630)]
r10 = [(.722,.612),(.728,.606),(.735,.606),(.740,.612),(.738,.619),(.730,.621),(.724,.619),(.731,.613),(.726,.615),(.735,.617)]
r20 = [(.572,.548),(.578,.542),(.586,.544),(.592,.552),(.588,.558),(.582,.563),(.576,.558),(.581,.552),(.569,.553),(.586,.550)]
r25 = [(.400,.456),(.408,.448),(.418,.447),(.428,.452),(.432,.460),(.426,.469),(.416,.474),(.405,.468),(.412,.460),(.421,.458),(.404,.460),(.424,.463)]
r29 = [(.124,.232),(.130,.226),(.140,.222),(.150,.226),(.155,.236),(.154,.246),(.146,.254),(.135,.256),(.126,.250),(.122,.241),(.134,.240),(.144,.238)]
plummer = [(.146,.222),(.152,.217),(.160,.220),(.166,.228),(.168,.238),(.164,.247),(.156,.250),(.149,.242),(.147,.232),(.157,.235)]
carina_full = [(.33, .26)]
line_s = [0, 1]
line_m = [0, .8]
legend_names = ["F1.6", "F2.0", "F2.6", "F3.0", "R0.0", "R1.0", "R2.0", "R2.5", "R2.9", "Plummer"]
legend_colors = ["#000000", "#ff0000", "#00ff00", "#0000ff", "#ff00ff", "#ff8000", "#aaaaaa", "#ff0080", "#8000ff", "#555555"]
legend_symbols = ["circle-cross-open", "hash-open", "circle-open-dot", "x-thin-open", "cross-open", "asterisk-open", "cross-thin-open", "hexagram-open", "star-square-open", "square-open"]
legend_mbar = [.962, .914, .864, .814, .764, .714, .664, .614, .564, .514]

# ---------- panel (c): Lambda_MSR against N_MST ----------
n_mst = [4, 14, 24, 34, 44, 54, 64, 74, 84, 94, 104, 114, 124, 134, 144, 154, 164, 174, 184, 194, 204, 214, 224, 234, 244, 254, 264, 274, 284, 294, 304, 314, 324, 334, 344, 354, 364, 374, 384, 394, 404, 414, 424, 434, 444, 454, 464, 474, 484]
lam = [1.251, .849, .938, 1.006, .915, .823, .866, .876, .889, .889, .904, .925, .857, .830, .836, .840, .840, .845, .827, .806, .806, .804, .806, .791, .783, .783, .813, .819, .821, .808, .810, .830, .823, .821, .830, .825, .830, .830, .823, .815, .827, .836, .836, .834, .834, .840, .847, .853, .859]
lam_hi = [1.68, 1.096, 1.038, 1.162, .996, .942, .966, .970, .964, .989, .979, .989, .898, .898, .881, .898, .911, .881, .881, .876, .862, .853, .849, .836, .840, .838, .864, .872, .866, .855, .847, .868, .857, .876, .862, .872, .885, .862, .862, .862, .862, .872, .883, .868, .862, .883, .887, .900, .900]
lam_lo = [.84, .691, .742, .864, .774, .734, .776, .808, .798, .804, .808, .815, .770, .751, .744, .776, .759, .761, .764, .757, .753, .740, .755, .751, .734, .738, .755, .755, .759, .764, .774, .772, .781, .778, .785, .768, .776, .789, .787, .776, .781, .774, .785, .783, .802, .802, .808, .815, .819]
top_tick_n = [0, 80, 158, 236, 316, 396, 476]
top_tick_k = ["6.48", "8.56", "9.43", "10.10", "10.60", "11.10", "11.47"]

# ---------- panel (d): log10 K-mag, log10 Sigma ----------
d_sparse = [
(1.007,2.958),(.992,2.92),(1.007,2.843),(.991,2.851),(1.026,2.797),(1.022,2.786),(1.019,2.728),(1.013,2.702),(1.020,2.659),(1.039,2.625),(1.001,2.625),(1.003,2.556),(1.036,2.506),(1.035,2.452),(1.023,2.395),
(.975,2.682),(.967,2.644),(.931,2.702),(.924,2.878),(.892,2.79),(.861,2.525),(.779,2.725),(1.013,1.962),(.987,1.954),(.975,1.958),(.930,1.885),(.903,1.809),(.903,1.736),(.973,1.801),(.966,1.725),(.955,1.751),
(.953,1.77),(.944,1.686),(1.033,1.782),(1.021,1.763),(1.001,1.763),(1.004,1.721),(1.023,1.682),(.996,1.629),(.940,1.571),(.903,1.533),(1.039,1.617),(1.027,1.571),(1.026,1.537),(1.030,1.495),(.945,1.464),
(.979,1.46),(.992,1.441),(1.0,1.418),(1.012,1.422),(1.022,1.422),(1.029,1.387),(1.039,1.357),(1.017,1.364),(.992,1.376),(.969,1.376),(.902,1.426),(.922,1.456),(.926,1.399),(.917,1.399),(.866,1.338),(.850,1.284),
(.836,1.272),(.890,1.238),(.882,1.203),(.908,1.3),(.943,1.307),(.956,1.311),(.969,1.303),(.987,1.284),(.993,1.269),(.963,1.246),(1.039,1.234),(1.034,1.215),(.921,1.219),(.943,1.18),(.966,1.169),(.972,1.131),
(.979,1.119),(.995,1.138),(1.005,1.138),(1.009,1.157),(1.013,1.169),(1.017,1.119),(1.026,1.138),(1.034,1.157),(1.021,1.157),(.930,1.138),(.919,1.111),(.907,1.138),(.897,1.081),(.883,1.069),(.889,1.039),(.855,1.104),
(.782,1.123),(.812,.993),(.932,1.035),(.966,1.081),(.966,.977),(.958,1.008),(.990,1.031),(1.002,1.02),(1.010,1.004),(1.037,.997),(.983,.977),(.849,.947),(.934,.928),(.943,.885),(.953,.889),(.961,.878),(.977,.851),
(.999,.897),(1.01,.882),(1.017,.851),(1.025,.87),(1.036,.813),(.919,.862),(.950,.832),(.930,.767),(.983,.794),(.979,.736),(.994,.705),(1.013,.794),(1.017,.736),(1.027,.774),
(.827,.598),(.834,.422),(.828,.253),(.872,.196),(.891,.613),(.897,.518),(.883,.491),(.921,.640),(.923,.594),(.932,.621),(.943,.564),(.940,.518),(.933,.545),(.928,.514),(.930,.430),(.924,.430),(.921,.326),(.949,.633),
(.959,.629),(.970,.613),(.989,.621),(.983,.633),(.993,.545),(.991,.476),(.982,.487),(.986,.384),(1.0,.392),(1.012,.384),(1.006,.334),(1.025,.345),(1.038,.315),(1.017,.257),(1.009,.211),(1.028,.192),(1.030,.162),
(.990,.276),(.979,.303),(.961,.384),(.959,.353),(.945,.376),(.943,.307),(.952,.276),(.949,.257),(1.031,.054),(1.021,.0),(1.023,-.038),(.911,-.022),(.951,-.187),(.967,-.252),(.954,-.275),(1.013,-.267),(.855,-.264),
(.990,-.409),(1.009,-.382),(1.011,-.447),(1.034,-.39),(1.034,-.478),(1.041,-.49),(.999,-.467),(.963,-.459),(.938,-.47),(.955,-.509),(.955,-.566),(.928,-.574),(.917,-.54),(.887,-.486),(.971,-.585),(.969,-.604),
(.978,-.608),(.985,-.639),(.977,-.654),(.960,-.662),(1.006,-.662),(1.017,-.654),(1.021,-.677),(.977,-.727),(1.028,-.769),(.897,-.723),(.882,-.777),(.938,-.777),(.978,-.815),(.981,-.861),(.970,-.888),(.955,-.834),
(1.005,-.853),(1.009,-.857),(1.030,-.888),(1.041,-.88),(.893,-.884),(.935,-.911),(.938,-.957),(.952,-.972),(1.017,-.972),(1.034,-.965),(1.038,-1.003),(.975,-1.03),(.988,-1.072),(.993,-1.118),(.978,-1.106),(.976,-1.152),
(.926,-1.198),(.913,-1.244),(.873,-1.255),(.849,-1.363),(1.011,-1.248),(1.034,-1.355),(1.019,-1.336),(.991,-1.325),(.961,-1.336),(.996,-1.409),(1.0,-1.428),(.985,-1.417),(1.030,-1.417),(1.029,-1.616),(.989,-1.639),
(1.269,-.646),(1.269,-.52),(1.291,-.286),(1.277,-.363),(1.267,-.432),(1.251,-.425),(1.238,-.425),(1.248,-.356),(1.262,-.336),(1.214,-.356),(1.206,-.309),(1.192,-.413),(1.182,-.336),(1.225,-.26),(1.214,-.222),(1.202,-.271),
(1.231,-.164),(1.252,-.126),(1.265,-.164),(1.282,-.126),(1.292,-.03),(1.299,.047),(1.301,.181),(1.314,.303),(1.323,.188),(1.289,.066),(1.272,-.061),(1.260,.008),(1.275,.066),(1.238,.085),(1.248,.123),(1.218,-.126),
(1.197,-.126),(1.208,-.145),(1.189,-.24),(1.323,.621),(1.313,.468),(1.302,.411),(1.296,.296),(1.279,.219),(1.262,.104),(1.252,.257),(1.269,.296),
(1.176,-.685),(1.176,-.815),(1.171,-.815),(1.178,-.964),(1.167,-.938),(1.176,-1.152),(1.176,-1.237),(1.165,-1.206),(1.158,-1.198),(1.155,-1.275),(1.15,-1.34),(1.14,-1.424),(1.114,-1.459),(1.108,-1.535),(1.131,-1.696),
(1.114,-1.685),(1.09,-1.685),(1.061,-1.612),(1.101,-1.359),(1.109,-1.359),(1.127,-1.317),(1.121,-1.283),(1.114,-1.237),(1.108,-1.244),(1.097,-1.21),(1.089,-1.217),(1.092,-1.313),(1.076,-1.267),(1.073,-1.348),(1.076,-1.141),
(1.087,-1.11),(1.097,-1.114),(1.109,-1.122),(1.119,-1.083),(1.13,-1.114),(1.14,-1.122),(1.148,-1.141),(1.148,-1.064),(1.143,-1.007),(1.158,-1.007),(1.157,-.93),(1.138,-.884),(1.13,-.854),(1.121,-.892),(1.113,-.93),(1.102,-.949),
(1.092,-.988),(1.08,-.968),(1.069,-1.014),(1.062,-1.007),(1.053,-1.076),(1.065,-.911),(1.053,-.884),(1.041,-.88),(1.038,-.999),(1.05,-.815),(1.049,-.758),(1.062,-.758),(1.069,-.708),(1.075,-.853),(1.089,-.777),(1.099,-.72),
(1.113,-.796),(1.126,-.739),(1.136,-.777),(1.145,-.796),(1.153,-.834),(1.16,-.777),(1.158,-.662),(1.15,-.605),(1.138,-.643),(1.126,-.624),(1.113,-.566),(1.102,-.47),(1.092,-.605),(1.08,-.662),(1.072,-.509),(1.062,-.44),
(1.042,-.482),(1.047,-.363),(1.065,-.222),(1.075,-.298),(1.089,-.394),(1.099,-.202),(1.121,-.394),(1.13,-.47),(1.143,-.432),(1.153,-.394),(1.167,-.432),(1.175,-.451),(1.175,-.566),(1.167,-.566),(1.158,-.528),(1.116,-.47),
(1.109,-.643),(1.099,-.777),(1.089,-.681),(1.084,-.547),(1.069,-.356),(1.082,-.356),(1.045,-.145),(1.041,-.23),(1.062,-.011),(1.045,-.011),(1.072,-.011),(1.072,.066),(1.057,.085),(1.05,.027),(1.092,-.394),(1.133,-.585),
(1.123,-.585),(1.106,-.853),(1.096,-.892),(1.106,-.547),(1.099,-.624),(1.109,-.777),(1.096,-.815),(1.12,-.662),(1.113,-.7),(1.089,-.892),
(1.17,-.24),(1.157,-.26),(1.138,-.26),(1.126,-.279),(1.111,-.24),(1.096,-.24),(1.086,-.126),(1.084,.027),(1.079,.181),(1.062,.162),(1.052,.238),(1.041,.315),(1.17,-.088),(1.184,-.202),(1.143,-.164),
(1.303,2.82),(1.296,2.794),(1.289,2.813),(1.283,2.851),(1.279,2.9),(1.275,2.997),(1.263,3.081),(1.253,3.092),(1.244,3.092),(1.232,3.092),(1.206,3.054),(1.186,3.066),(1.145,3.104),(1.114,3.035),(1.096,2.989),(1.286,2.698),
(1.28,2.748),(1.277,2.633),(1.277,2.537),(1.274,2.441),(1.263,2.242),(1.255,2.326),(1.252,2.25),(1.261,2.07),(1.256,2.123),(1.244,2.146),(1.244,2.001),(1.242,1.924),(1.235,1.974),(1.23,1.993),(1.218,1.962),(1.215,1.917),
(1.206,1.893),(1.2,1.962),(1.189,1.955),(1.213,2.039),(1.213,2.154),(1.204,2.192),(1.197,2.116),(1.187,2.192),(1.18,2.039),(1.174,2.001),(1.163,2.077),(1.157,2.116),(1.148,2.058),(1.133,1.97),(1.123,2.001),(1.108,2.02),
(1.097,2.012),(1.089,1.893),(1.097,1.867),(1.121,2.135),(1.113,2.307),(1.121,2.25),(1.136,2.173),(1.13,2.326),(1.104,2.414),(1.128,2.453),(1.113,2.518),(1.109,2.882),(1.096,2.824),(1.08,2.767),(1.071,2.851),(1.067,2.767),
(1.058,2.748),(1.047,2.729),(1.058,2.9),(1.045,2.87),(1.041,2.87),(1.04,2.621),(1.06,2.391),(1.064,2.269),(1.069,2.192),(1.086,2.28),(1.088,2.422),(1.092,2.48),(1.081,2.556),(1.082,2.48),(1.094,2.633),(1.091,2.729),
(1.106,2.729),(1.116,2.652),(1.123,2.729),(1.133,2.882),(1.116,2.939),(1.147,2.958),
(1.057,1.886),(1.058,1.848),(1.047,1.81),(1.072,1.81),(1.08,1.771),(1.077,1.74),(1.072,1.752),(1.087,1.74),(1.099,1.74),(1.109,1.848),(1.116,1.81),(1.133,1.867),(1.279,1.779),(1.257,1.714),(1.269,1.664),(1.263,1.637),
(1.259,1.56),(1.27,1.541),(1.272,1.484),(1.283,1.438),(1.3,1.419),(1.31,1.38),(1.317,1.285),(1.309,1.285),(1.308,1.196),(1.309,1.082),(1.331,1.093),(1.324,.898),(1.313,.794),(1.289,1.331),(1.282,1.311),(1.274,1.377),
(1.253,1.426),(1.25,1.541),(1.243,1.534),(1.235,1.549),(1.241,1.656),(1.233,1.637),(1.226,1.58),(1.214,1.637),(1.208,1.675),(1.202,1.771),(1.053,1.706),(1.069,1.656),(1.077,1.599),(1.084,1.484),(1.063,1.369),(1.052,1.311),
(1.041,1.35),(1.055,1.235),(1.062,1.158),(1.043,1.101),(1.289,1.196),(1.296,1.082),(1.282,1.196),(1.269,1.292),(1.255,1.311),(1.235,1.342),(1.226,1.426),(1.291,1.005),(1.286,.89),(1.299,.852),(1.313,.852),(1.304,1.024),
(1.275,1.082),(1.262,1.158),(1.248,1.235),(1.231,1.235),(1.279,.775),(1.258,.852),(1.245,.775),
(1.29,.7),(1.27,.68),(1.25,.72),(1.23,.7),(1.21,.71),(1.28,.6),(1.26,.58),(1.24,.6),(1.22,.58),(1.2,.6),(1.29,.5),(1.27,.48),(1.25,.5),(1.23,.48),(1.21,.5),(1.26,.4),(1.24,.38),(1.22,.4),(1.2,.38),(1.28,.38),(1.27,.3),
(1.25,.28),(1.23,.3),(1.21,.28),(1.19,.3),(1.24,.2),(1.22,.18),(1.2,.2),(1.18,.2),(1.23,.1),(1.21,.08),(1.19,.1),(1.17,.08),(1.3,.9),(1.28,.85),(1.26,.9),(1.24,.85),(1.22,.9),(1.27,.95),(1.25,1.0),(1.23,1.05),(1.21,1.1),
(1.23,.95),(1.21,.95),(1.22,1.2),(1.2,1.3),(1.21,1.4),(1.2,1.5),(1.19,1.6),(1.185,1.7),(1.18,1.8),(1.08,1.3),(1.07,1.2),(1.06,1.05),(1.07,.9),(1.06,.75),(1.05,.65),(1.07,.6),(1.06,.5),(1.05,.4),(1.07,.35),(1.05,.9),(1.04,.8),
(1.04,.6),(1.04,.45),(1.05,1.2),(1.06,.3),(1.04,.2),(1.06,1.5),(1.05,1.4),(1.08,1.5),
(1.305,.66),(1.285,.55),(1.295,.42),(1.275,.42),(1.255,.35),(1.235,.25),(1.215,.14),(1.195,.02),(1.185,.14),(1.265,.22),(1.245,.14),(1.225,.02),(1.21,-.05),(1.28,.25),(1.29,.18),(1.27,.14),(1.25,.05),(1.235,-.04),
(1.315,.72),(1.3,.78),(1.285,.72),(1.265,.8),(1.245,.76),(1.225,.79),(1.3,.6),(1.275,.55),(1.25,.62),(1.235,.55),(1.215,.62),(1.28,.95),(1.26,1.02),(1.24,.98),(1.22,1.03),(1.24,1.12),(1.22,1.1),(1.25,1.18),(1.235,1.15),
(1.215,1.25),(1.225,1.32),(1.21,1.25),(1.205,1.45),(1.215,1.5),(1.198,1.65),(1.19,1.75),(1.18,1.66),
(1.16,-.45),(1.15,-.5),(1.14,-.5),(1.13,-.53),(1.12,-.5),(1.105,-.51),(1.095,-.47),(1.085,-.46),(1.075,-.41),(1.06,-.32),(1.15,-.7),(1.14,-.72),(1.13,-.66),(1.12,-.78),(1.105,-.68),(1.095,-.58),(1.085,-.63),(1.075,-.6),
(1.15,-.86),(1.14,-.95),(1.125,-.97),(1.115,-1.03),(1.105,-1.05),(1.09,-1.06),(1.08,-1.04),(1.07,-.93),(1.06,-.85),(1.055,-.65),(1.08,-.75),(1.105,-.8),(1.095,-.9),(1.12,-.93),(1.135,-1.05),
(1.07,-.12),(1.08,-.2),(1.06,-.15),(1.05,-.08),(1.07,.15),(1.08,.1),(1.06,.25),(1.05,.18),(1.08,.72),(1.07,.78),(1.06,.9),(1.07,1.03),(1.06,1.2),(1.075,1.12),(1.085,1.2),(1.07,1.4),(1.08,1.4),(1.09,1.42),(1.065,1.62),(1.075,1.72),
(1.09,1.62),(1.1,1.62),(1.115,1.72),(1.125,1.75),(1.14,1.8),(1.105,1.55),(1.16,1.85),(1.15,1.9),(1.18,1.9),(1.17,2.1),(1.14,2.12),(1.15,2.2),(1.19,2.08),(1.205,2.1),(1.22,2.1),(1.235,2.08),(1.1,2.2),(1.09,2.1),(1.18,2.2),
(1.27,.72),(1.26,.65),(1.255,.55),(1.27,.6),(1.285,.66),(1.3,.55),(1.245,.45),(1.26,.46),(1.28,.48),(1.295,.38),(1.27,.36),(1.25,.42),(1.23,.38),(1.21,.38),(1.24,.3),(1.26,.28),(1.28,.3),(1.225,.22),(1.205,.22),(1.19,.2),(1.25,.18),(1.27,.16),(1.235,.12),(1.215,.1),(1.2,.08),(1.185,.02),(1.17,-.02),(1.22,.0),(1.205,-.03),(1.245,.0),(1.26,-.04),
(1.28,.8),(1.26,.8),(1.25,.85),(1.27,.88),(1.29,.82),(1.31,.78),(1.24,.95),(1.26,.96),(1.28,1.0),(1.3,.98),(1.22,1.02),(1.24,1.05),(1.26,1.1),(1.23,1.15),(1.24,1.22),(1.225,1.25),(1.22,1.36),(1.21,1.32),(1.2,1.4),(1.195,1.55),(1.18,1.62),(1.175,1.78),
(1.07,1.0),(1.07,.85),(1.055,.8),(1.06,.95),(1.06,.65),(1.055,.55),(1.065,.42),(1.075,.2),(1.08,.05),(1.075,-.06),(1.09,-.15),(1.07,1.25),(1.08,1.25),(1.075,1.55),(1.09,1.55),(1.1,1.68),(1.12,1.78),(1.14,1.85),(1.165,1.88),
(1.155,-.65),(1.145,-.68),(1.13,-.75),(1.115,-.66),(1.1,-.68),(1.09,-.75),(1.125,-.85),(1.14,-.85),(1.105,-.94),(1.09,-.98),(1.12,-.99),(1.16,-.92),(1.15,-1.02),(1.135,-.97),(1.1,-.62),(1.08,-.55),(1.07,-.65),(1.07,-.82),(1.085,-.9),(1.075,-.97),(1.115,-.88),(1.13,-.58),(1.15,-.44),
(1.25,2.2),(1.235,2.18),(1.215,2.2),(1.19,2.25),(1.17,2.2),(1.155,2.25),(1.14,2.25),(1.125,2.3),(1.11,2.25),(1.1,2.35),(1.225,2.05),(1.195,2.03),(1.165,1.97),(1.145,1.95),(1.125,1.9),(1.105,1.9),(1.095,2.3),(1.1,2.45),(1.11,2.6),(1.09,2.55),(1.1,2.8),(1.125,2.98),(1.105,2.9),(1.09,2.7),(1.27,2.35),(1.275,2.55),(1.272,2.75),(1.26,2.95),
]
d_core_top = [
(1.24,2.95),(1.22,2.97),(1.20,2.95),(1.18,2.97),(1.16,2.95),(1.14,2.93),(1.265,2.80),(1.248,2.82),(1.232,2.80),(1.216,2.82),(1.2,2.80),(1.184,2.82),(1.168,2.80),(1.152,2.82),(1.136,2.80),(1.12,2.78),
(1.265,2.65),(1.248,2.63),(1.232,2.65),(1.216,2.63),(1.2,2.65),(1.184,2.63),(1.168,2.65),(1.152,2.63),(1.136,2.65),(1.12,2.63),(1.262,2.50),(1.245,2.48),(1.228,2.50),(1.21,2.48),(1.195,2.50),(1.178,2.48),(1.16,2.50),(1.145,2.48),(1.13,2.50),
(1.245,2.35),(1.225,2.37),(1.205,2.35),(1.185,2.37),(1.165,2.35),(1.15,2.37)]
d_core_main = [
(1.165,1.7),(1.145,1.72),(1.125,1.68),(1.19,1.5),(1.17,1.52),(1.15,1.5),(1.13,1.52),(1.11,1.5),(1.095,1.48),(1.205,1.3),(1.185,1.32),(1.165,1.3),(1.145,1.32),(1.125,1.3),(1.105,1.32),(1.085,1.28),
(1.215,1.1),(1.195,1.12),(1.175,1.1),(1.155,1.12),(1.135,1.1),(1.115,1.12),(1.095,1.1),(1.08,1.08),(1.225,.9),(1.205,.92),(1.185,.9),(1.165,.92),(1.145,.9),(1.125,.92),(1.105,.9),(1.085,.92),(1.07,.88),
(1.235,.7),(1.215,.72),(1.195,.7),(1.175,.72),(1.155,.7),(1.135,.72),(1.115,.7),(1.095,.72),(1.075,.68),(1.24,.5),(1.22,.52),(1.2,.5),(1.18,.52),(1.16,.5),(1.14,.52),(1.12,.5),(1.1,.52),(1.08,.48),
(1.205,.3),(1.185,.32),(1.165,.3),(1.145,.32),(1.125,.3),(1.105,.32),(1.085,.28),(1.19,.1),(1.17,.12),(1.15,.1),(1.13,.12),(1.11,.1),(1.09,.08),(1.16,-.1),(1.14,-.08),(1.12,-.1),(1.10,-.08),(1.14,-.25),(1.12,-.23)]
red_k = [7.07, 5.72]
red_sigma = [6.9, 6.9]
blue_k = [20.8, 5.72]
blue_sigma = [8.9, 8.9]

def px_x(a, b): return [a / W, b / W]
def px_y(top, bottom): return [1 - bottom / H, 1 - top / H]

def unzip(pairs):
    return [p[0] for p in pairs], [p[1] for p in pairs]

fig = go.Figure()

def axis(**kw):
    d = dict(showgrid=False, zeroline=False, showline=True, linecolor="black", linewidth=2, mirror="allticks",
             ticks="inside", ticklen=10, tickwidth=2, tickcolor="black", ticklabeloverflow="allow",
             tickfont=dict(family=FONT, size=20, color="#111111"))
    d.update(kw)
    return d

def minor(vals, ln=5):
    return dict(tickvals=vals, ticks="inside", ticklen=ln, tickwidth=2, tickcolor="black", showgrid=False)

# panel a
for pts, size in ((stars_sparse, 3), (stars_field, 3.2), (stars_clumped, 4), (stars_core, 8)):
    x, y = unzip(pts)
    fig.add_trace(go.Scatter(x=x, y=y, mode="markers", xaxis="x", yaxis="y", marker=dict(color="black", size=size, line=dict(width=0))))
for bx, by, c in ((orange_box_ra, orange_box_dec, "#ff8000"), (red_box_ra, red_box_dec, "#ff0000"), (red_small_ra, red_small_dec, "#ff0000")):
    fig.add_trace(go.Scatter(x=bx, y=by, mode="lines", xaxis="x", yaxis="y", line=dict(color=c, width=2)))

# panel b
fig.add_trace(go.Scatter(x=line_s, y=line_m, mode="lines", xaxis="x2", yaxis="y2", line=dict(color="black", width=3)))
x, y = unzip(carina_full)
fig.add_trace(go.Scatter(x=x, y=y, mode="markers", xaxis="x2", yaxis="y2", marker=dict(symbol="triangle-up", color="black", size=10)))
series_b = (f16, f20, f26, f30, r00, r10, r20, r25, r29, plummer)
sizes_b = (13, 12, 13, 10, 6, 6, 6, 6, 6, 7)
widths_b = (1, 3, 1, 1, 2, 2, 2, 2, 2, 2)
for pts, name, col, sym, sz, wd in zip(series_b, legend_names, legend_colors, legend_symbols, sizes_b, widths_b):
    x, y = unzip(pts)
    fig.add_trace(go.Scatter(x=x, y=y, mode="markers", xaxis="x2", yaxis="y2", name=name,
                             marker=dict(symbol=sym, color=col, size=sz, line=dict(color=col, width=wd))))
legend_sizes = (13, 16, 13, 10, 11, 9, 14, 14, 16, 10)
legend_widths = (1, 2, 1, 1, 1, 1, 1, 1, 1, 1)
for name, col, sym, my, sz, wd in zip(legend_names, legend_colors, legend_symbols, legend_mbar, legend_sizes, legend_widths):
    lc = "#555555" if name == "Plummer" else col
    fig.add_trace(go.Scatter(x=[.029], y=[my], mode="markers", xaxis="x2", yaxis="y2",
                             marker=dict(symbol=sym, color=lc, size=sz, line=dict(color=lc, width=wd))))
fig.add_trace(go.Scatter(x=[.267], y=[.914], mode="markers", xaxis="x2", yaxis="y2", marker=dict(symbol="triangle-up", color="black", size=11)))

# panel c
fig.add_trace(go.Scatter(x=[0, 500], y=[1, 1], mode="lines", xaxis="x3", yaxis="y3", line=dict(color="#ff0000", width=2, dash="15px,12px")))
fig.add_trace(go.Scatter(x=n_mst, y=lam, mode="markers", xaxis="x3", yaxis="y3", marker=dict(color="black", size=5),
                         error_y=dict(type="data", symmetric=False, array=[h - v for h, v in zip(lam_hi, lam)],
                                      arrayminus=[v - l for l, v in zip(lam_lo, lam)], color="black", thickness=2, width=2)))

# panel d
for pts, size in ((d_core_top, 20), (d_core_main, 26), (d_sparse, 6.5)):
    x = [10 ** p[0] for p in pts]
    y = [10 ** p[1] for p in pts]
    fig.add_trace(go.Scatter(x=x, y=y, mode="markers", xaxis="x4", yaxis="y4", marker=dict(color="#aaaaaa", size=size, line=dict(width=0))))
fig.add_trace(go.Scatter(x=blue_k, y=blue_sigma, mode="lines", xaxis="x4", yaxis="y4", line=dict(color="#0000ff", width=3.5, dash="22px,16px")))
fig.add_trace(go.Scatter(x=red_k, y=red_sigma, mode="lines", xaxis="x4", yaxis="y4", line=dict(color="#ff0000", width=3.5)))

dec_minor = [-59.1, -59.2, -59.3, -59.4, -59.6, -59.7, -59.8, -59.9, -60.1, -60.2, -60.3, -60.4, -60.6]
ra_minor = [162.6, 162.4, 162.2, 161.8, 161.6, 161.4, 161.2, 160.8, 160.6, 160.4, 160.2, 159.8, 159.6]
b_minor = [.05 * i for i in range(1, 20) if i % 4]
c_xminor = [20, 40, 60, 80, 120, 140, 160, 180, 220, 240, 260, 280, 320, 340, 360, 380, 420, 440, 460, 480]
c_yminor = [.6, .8, 1.2, 1.4, 1.6, 1.8, 2.2, 2.4, 2.6, 2.8]
d_xminor = [9, 8, 7, 6]
d_yminor = [m * 10 ** e for e in (-2, -1, 0, 1, 2, 3) for m in range(2, 10)]
d_yminor = [v for v in d_yminor if 0.02 < v < 1300]
YOFF = 13

fig.update_layout(
    width=W, height=H, margin=dict(l=0, r=0, t=0, b=0, autoexpand=False), showlegend=False,
    paper_bgcolor="white", plot_bgcolor="white",
    xaxis=axis(domain=px_x(123, 647), anchor="y", range=[162.752, 159.497], tickvals=[162, 161, 160], ticktext=["162", "161", "160"], minor=minor(ra_minor)),
    yaxis=axis(domain=px_y(9, 488), anchor="x", range=[-60.7, -59.0], tickvals=[-59, -59.5, -60, -60.5], ticktext=["−59", "−59.5", "−60", "−60.5"], minor=minor(dec_minor), ticklabelstandoff=YOFF),
    xaxis2=axis(domain=px_x(848, 1372), anchor="y2", range=[0, 1], tickvals=[0, .2, .4, .6, .8, 1], ticktext=["0", "0.2", "0.4", "0.6", "0.8", "1"], minor=minor(b_minor)),
    yaxis2=axis(domain=px_y(9, 488), anchor="x2", range=[0, 1], tickvals=[0, .2, .4, .6, .8, 1], ticktext=["0", "0.2", "0.4", "0.6", "0.8", "1"], minor=minor(b_minor), ticklabelstandoff=YOFF),
    xaxis3=axis(domain=px_x(90, 687), anchor="y3", range=[0, 500], tickvals=[0, 100, 200, 300, 400, 500], minor=minor(c_xminor)),
    yaxis3=axis(domain=px_y(762, 1161), anchor="x3", range=[.453, 3], tickvals=[1, 2, 3], minor=minor(c_yminor), ticklabelstandoff=YOFF),
    xaxis4=axis(domain=px_x(846, 1411), anchor="y4", type="log", range=[1.333, .7576], tickvals=[20, 10], ticktext=["20", "10"], minor=minor(d_xminor)),
    yaxis4=axis(domain=px_y(735, 1154), anchor="x4", type="log", range=[-1.69, 3.115], tickvals=[.1, 1, 10, 100, 1000], ticktext=["0.1", "1", "10", "100", "1000"], minor=minor(d_yminor, 6), ticklabelstandoff=YOFF),
)

def note(text, x, y, size=23, rot=0, color="#111111", fam=FONT, xanchor="center"):
    return dict(text=text, x=x / W, y=1 - y / H, xref="paper", yref="paper", showarrow=False, xanchor=xanchor, yanchor="middle",
                textangle=rot, font=dict(family=fam, size=size, color=color))

SERIF = "Liberation Serif"
anns = [
    note("RA (deg)", 385, 548), note("Dec (deg)", 20, 248, rot=-90),
    note("sbar", 1110, 546), note("mbar", 777, 247, rot=-90),
    note("N<sub>MST</sub>", 392, 1221, size=21), note("Λ<sub>MSR</sub>", -5, 958, size=21, rot=-90),
    note("K−mag", 1129, 1214, size=22), note("Σ (stars pc<sup>−2</sup>)", 746, 943, size=25, rot=-90),
    note("K−mag", 386, 715, size=18),
    note("(a)", 327, 608, size=21, fam=SERIF), note("(b)", 1051, 607, size=21, fam=SERIF),
    note("(c)", 329, 1273, size=21, fam=SERIF), note("(d)", 1051, 1273, size=21, fam=SERIF),
    note("Carina\u00a0\u00a0full\u00a0\u00a0region", 1003, 49, size=27, xanchor="left"),
    note("9236\u00a0stars", 1160, 456, size=28, xanchor="left"),
]
for name, col, my in zip(legend_names, legend_colors, legend_mbar):
    anns.append(note(name, 871, 488 - my * 479, size=22, color=col, xanchor="left"))
for n, k in zip(top_tick_n, top_tick_k):
    anns.append(note(k, 90 + n * 597 / 500, 741, size=19))
fig.update_layout(annotations=anns)

fig.write_html("out.html", config={"displayModeBar": False}, post_script="document.body.style.margin='0';")
